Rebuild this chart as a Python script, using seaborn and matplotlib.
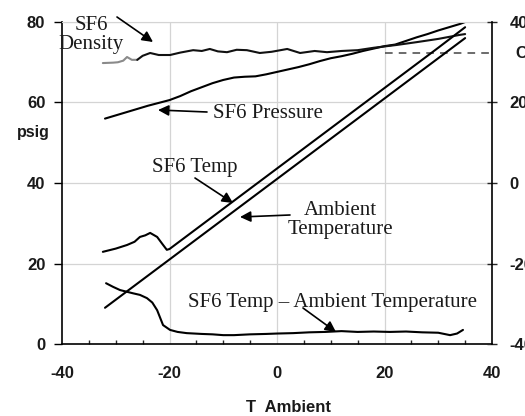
import matplotlib
matplotlib.use("Agg")
import matplotlib.pyplot as plt
import numpy as np
import pandas as pd
import seaborn as sns

# ---------------- data ----------------
# Ambient temperature (right axis, deg)
ambient_x = [-32, -10, 10, 35]
ambient_temp = [-31, -9, 11, 36]

# SF6 temperature (right axis, deg)
sf6_temp_x = [-32.4, -30, -27.9, -26.5, -25.5, -24.5, -23.6, -22.3, -21.3, -20.5,
              -20, -10, 0, 10, 20, 30, 35]
sf6_temp = [-17.1, -16.3, -15.4, -14.6, -13.4, -13.0, -12.4, -13.4, -15.2, -16.6,
            -16.4, -6.4, 3.6, 13.6, 23.6, 33.6, 38.7]

# SF6 temp - ambient temperature (left axis)
diff_x = [-31.8, -30.5, -29.2, -28, -26.8, -25.5, -24.2, -23.2, -22.3, -21.2, -19.9,
          -18.5, -16.8, -14, -12, -10, -8, -5, -2, 0, 3, 6, 9, 12, 15, 18, 21,
          24, 27, 30, 32.2, 33.5, 34.6]
diff = [15.1, 14.2, 13.4, 13.0, 12.6, 12.2, 11.4, 10.3, 8.4, 4.7, 3.5,
        3.0, 2.7, 2.5, 2.4, 2.2, 2.2, 2.4, 2.5, 2.6, 2.7, 2.9, 3.0, 3.2, 3.0, 3.1, 3.0,
        3.1, 2.9, 2.8, 2.2, 2.6, 3.5]

# SF6 pressure (psig, left axis)
pressure_x = [-32, -30, -28, -26, -24, -22, -20, -18, -16, -14, -12, -10, -8, -6,
              -4, -2, 0, 2, 4, 6, 8, 10, 12, 14, 16, 18, 20, 22, 24, 26, 28, 30,
              32, 34, 35]
pressure = [56.0, 56.8, 57.6, 58.4, 59.2, 59.9, 60.6, 61.6, 62.8, 63.8, 64.8, 65.6,
            66.2, 66.4, 66.5, 67.0, 67.6, 68.2, 68.8, 69.5, 70.3, 71.0, 71.5, 72.1,
            72.8, 73.4, 74.0, 74.4, 75.3, 76.2, 77.0, 77.9, 78.7, 79.5, 80.0]

# SF6 density (left axis) - first part drawn lighter
density_gray_x = [-32.4, -30.5, -29.6, -28.6, -27.9, -27, -26]
density_gray = [69.8, 69.9, 70.0, 70.4, 71.3, 70.6, 70.6]
density_x = [-26, -25, -23.6, -22, -19.9, -18, -15.6, -14, -12.5, -11, -9.3, -7.5,
             -5.6, -3.2, -1, 1.9, 4.3, 7, 9.3, 12, 15, 18, 22.3, 26, 30, 34, 35]
density = [70.6, 71.6, 72.3, 71.8, 71.8, 72.4, 73.0, 72.8, 73.3, 72.7, 72.5, 73.1,
           73.0, 72.3, 72.6, 73.3, 72.3, 72.8, 72.5, 72.8, 73.0, 73.6, 74.3, 75.0,
           75.8, 76.8, 77.0]

# dashed density limit (left axis)
limit_x = [20, 40]
limit = [72.3, 72.3]

left_ticks = [0, 20, 40, 60, 80]
right_ticks = [-40, -20, 0, 20, 40]
x_ticks = [-40, -20, 0, 20, 40]

# ---------------- style ----------------
sns.set_style("white")
plt.rcParams["font.family"] = ["Liberation Sans", "DejaVu Sans"]
plt.rcParams["axes.unicode_minus"] = False

W, H = 525, 416
fig = plt.figure(figsize=(W / 100, H / 100), dpi=100)
L, R, T, B = 62, 492, 22, 344
ax = fig.add_axes([L / W, 1 - B / H, (R - L) / W, (B - T) / H])
ax2 = ax.twinx()

ax.set_xlim(-40, 40)
ax.set_ylim(0, 80)
ax2.set_ylim(-40, 40)

# grid
for gx in [-20, 0, 20]:
    ax.axvline(gx, color="#d4d4d4", lw=0.9, zorder=0)
for gy in [20, 40, 60, 80]:
    ax.axhline(gy, color="#d4d4d4", lw=0.9, zorder=0)

lw = 1.5
sns.lineplot(x=pressure_x, y=pressure, ax=ax, color="black", lw=lw, sort=False)
sns.lineplot(x=density_gray_x, y=density_gray, ax=ax, color="#8a8a8a", lw=lw, sort=False)
sns.lineplot(x=density_x, y=density, ax=ax, color="#111111", lw=lw, sort=False)
sns.lineplot(x=limit_x, y=limit, ax=ax, color="#444444", lw=1.1, sort=False,
             linestyle=(0, (5, 4)))
sns.lineplot(x=diff_x, y=diff, ax=ax, color="black", lw=lw, sort=False)
sns.lineplot(x=ambient_x, y=ambient_temp, ax=ax2, color="black", lw=lw, sort=False)
sns.lineplot(x=sf6_temp_x, y=sf6_temp, ax=ax2, color="black", lw=lw, sort=False)

# spines
for s in ["left", "bottom"]:
    ax.spines[s].set_color("black")
    ax.spines[s].set_linewidth(1.2)
ax.spines["top"].set_color("#d4d4d4")
ax.spines["right"].set_visible(False)
for s in ["left", "top", "bottom"]:
    ax2.spines[s].set_visible(False)
ax2.spines["right"].set_color("black")
ax2.spines["right"].set_linewidth(1.2)

# ticks
ax.set_xticks(x_ticks)
ax.set_xticks(np.arange(-35, 40, 5), minor=True)
ax.set_yticks(left_ticks)
ax2.set_yticks(right_ticks)
ax.tick_params(axis="y", direction="out", length=6, width=1, pad=6,
               labelsize=12, colors="black")
ax.tick_params(axis="x", which="major", direction="inout", length=7, width=1,
               pad=12, labelsize=12)
ax.tick_params(axis="x", which="minor", direction="in", length=3, width=1,
               bottom=True)
ax2.tick_params(axis="y", direction="inout", length=7, width=1, pad=9,
                labelsize=12)
for lbl in ax.get_xticklabels() + ax.get_yticklabels() + ax2.get_yticklabels():
    lbl.set_fontweight("bold")
    lbl.set_color("#1a1a1a")
ax.set_xlabel("")
ax.set_ylabel("")
ax2.set_ylabel("")

fig.text(33 / W, 1 - 132 / H, "psig", ha="center", va="center",
         fontsize=11.5, fontweight="bold", color="#1a1a1a")
fig.text(288 / W, 1 - 407 / H, "T  Ambient", ha="center", va="center",
         fontsize=12, fontweight="bold", color="#1a1a1a")
fig.text(515 / W, 1 - 54 / H, "C", ha="left", va="center",
         fontsize=12, fontweight="bold", color="#1a1a1a")


def px2d(px, py):
    return ((px - L) / ((R - L) / 80.0) - 40, (B - py) / ((B - T) / 80.0))


serif = dict(family=["Liberation Serif", "DejaVu Serif"], fontsize=15, color="#1a1a1a")
arrow = dict(arrowstyle="-|>", color="black", lw=1.2, mutation_scale=16,
             shrinkA=0, shrinkB=0)

ax.text(*px2d(91, 35), "SF6\nDensity", ha="center", va="center",
        linespacing=1.05, **serif)
ax.annotate("", xy=px2d(153, 42), xytext=px2d(117, 17), arrowprops=arrow,
            annotation_clip=False)

ax.text(*px2d(213, 113), "SF6 Pressure", ha="left", va="center", **serif)
ax.annotate("", xy=px2d(158, 110), xytext=px2d(207, 112), arrowprops=arrow)

ax.text(*px2d(152, 168), "SF6 Temp", ha="left", va="center", **serif)
ax.annotate("", xy=px2d(233, 203), xytext=px2d(195, 178), arrowprops=arrow)

ax.text(*px2d(340, 220), "Ambient\nTemperature", ha="center", va="center",
        linespacing=1.0, **serif)
ax.annotate("", xy=px2d(240, 217), xytext=px2d(290, 215), arrowprops=arrow)

ax.text(*px2d(188, 302), "SF6 Temp \u2013 Ambient Temperature", ha="left",
        va="center", **serif)
ax.annotate("", xy=px2d(336, 332), xytext=px2d(303, 308), arrowprops=arrow)

fig.savefig("out.png", dpi=100)
